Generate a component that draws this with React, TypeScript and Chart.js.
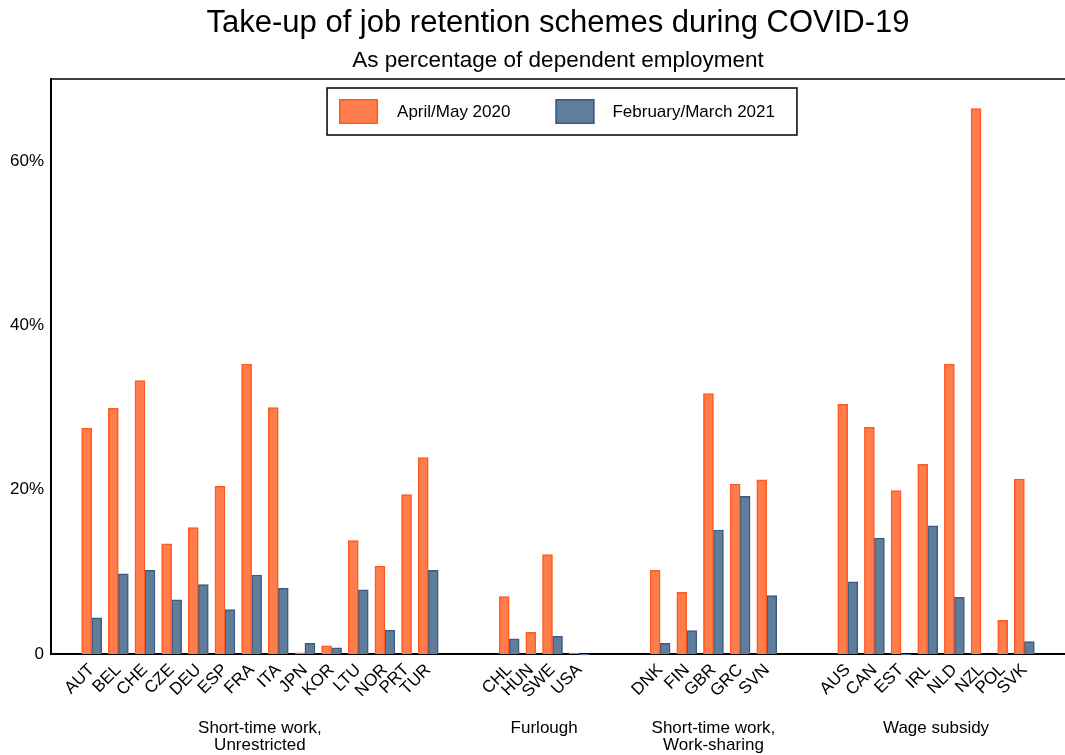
import React, { useEffect, useRef } from 'react';
import { Chart, registerables } from 'chart.js';

Chart.register(...registerables);

const TITLE = 'Take-up of job retention schemes during COVID-19';
const SUBTITLE = 'As percentage of dependent employment';
const SERIES_NAMES = ['April/May 2020', 'February/March 2021'];

const SCHEME_LABELS = [
  ['Short-time work,', 'Unrestricted'],
  ['Furlough'],
  ['Short-time work,', 'Work-sharing'],
  ['Wage subsidy'],
];

const COUNTRIES_STW_UNRESTRICTED = ['AUT', 'BEL', 'CHE', 'CZE', 'DEU', 'ESP', 'FRA', 'ITA', 'JPN', 'KOR', 'LTU', 'NOR', 'PRT', 'TUR'];
const COUNTRIES_FURLOUGH = ['CHL', 'HUN', 'SWE', 'USA'];
const COUNTRIES_STW_SHARING = ['DNK', 'FIN', 'GBR', 'GRC', 'SVN'];
const COUNTRIES_WAGE_SUBSIDY = ['AUS', 'CAN', 'EST', 'IRL', 'NLD', 'NZL', 'POL', 'SVK'];

const APR_MAY_2020_STW_UNRESTRICTED = [27.5, 29.9, 33.3, 13.4, 15.4, 20.4, 35.3, 30.0, 0.15, 1.0, 13.8, 10.7, 19.4, 23.9];
const FEB_MAR_2021_STW_UNRESTRICTED = [4.4, 9.75, 10.2, 6.6, 8.45, 5.4, 9.6, 8.0, 1.3, 0.75, 7.8, 2.9, null, 10.2];
const APR_MAY_2020_FURLOUGH = [7.0, 2.65, 12.1, 0.12];
const FEB_MAR_2021_FURLOUGH = [1.85, null, 2.15, -0.1];
const APR_MAY_2020_STW_SHARING = [10.2, 7.5, 31.7, 20.7, 21.2];
const FEB_MAR_2021_STW_SHARING = [1.3, 2.85, 15.1, 19.2, 7.1];
const APR_MAY_2020_WAGE_SUBSIDY = [30.4, 27.6, 19.9, 23.1, 35.3, 66.4, 4.1, 21.3];
const FEB_MAR_2021_WAGE_SUBSIDY = [8.8, 14.1, -0.1, 15.6, 6.9, 0, null, 1.5];

const COUNTRY_GROUPS = [COUNTRIES_STW_UNRESTRICTED, COUNTRIES_FURLOUGH, COUNTRIES_STW_SHARING, COUNTRIES_WAGE_SUBSIDY];
const SERIES_A = [APR_MAY_2020_STW_UNRESTRICTED, APR_MAY_2020_FURLOUGH, APR_MAY_2020_STW_SHARING, APR_MAY_2020_WAGE_SUBSIDY];
const SERIES_B = [FEB_MAR_2021_STW_UNRESTRICTED, FEB_MAR_2021_FURLOUGH, FEB_MAR_2021_STW_SHARING, FEB_MAR_2021_WAGE_SUBSIDY];

const Y_TICKS = [0, 20, 40, 60];
const Y_MAX = 70;

// x layout units: a missing bar takes no room (as in the source graph)
const BAR = 1.5;
const GAP = 1;
const GROUP_GAP = 9.15;
const OUTER = 4.6;

const FONT = "'Liberation Sans', Arial, Helvetica, sans-serif";
const ORANGE_FILL = '#FF7D4D';
const ORANGE_EDGE = '#FF5A1F';
const BLUE_FILL = '#5F7E9C';
const BLUE_EDGE = '#3C5B7E';

function buildLayout() {
  const a: { x: number; y: number }[] = [];
  const b: { x: number; y: number }[] = [];
  const tickPos: number[] = [];
  const tickLabels: string[] = [];
  const groupCenters: number[] = [];
  let x = OUTER;
  COUNTRY_GROUPS.forEach((list, g) => {
    const gStart = x;
    list.forEach((country, i) => {
      const start = x;
      a.push({ x: x + BAR / 2, y: SERIES_A[g][i] as number });
      x += BAR;
      const vb = SERIES_B[g][i];
      if (vb !== null) {
        b.push({ x: x + BAR / 2, y: vb });
        x += BAR;
      }
      tickPos.push((start + x) / 2);
      tickLabels.push(country);
      if (i < list.length - 1) x += GAP;
    });
    groupCenters.push((gStart + x) / 2);
    if (g < COUNTRY_GROUPS.length - 1) x += GROUP_GAP;
  });
  return { a, b, tickPos, tickLabels, groupCenters, max: x + OUTER };
}

export default function App() {
  const ref = useRef<HTMLCanvasElement | null>(null);

  useEffect(() => {
    if (!ref.current) return;
    const L = buildLayout();

    const framePlugin = {
      id: 'frameAndExtras',
      afterDraw(chart: any) {
        const { ctx, chartArea } = chart;
        ctx.save();
        // top frame line
        ctx.strokeStyle = '#000';
        ctx.lineWidth = 1.5;
        ctx.beginPath();
        ctx.moveTo(chartArea.left, chartArea.top);
        ctx.lineTo(chart.width, chartArea.top);
        ctx.stroke();

        // legend box
        ctx.font = `17px ${FONT}`;
        const w1 = ctx.measureText(SERIES_NAMES[0]).width;
        const w2 = ctx.measureText(SERIES_NAMES[1]).width;
        const sw = 39, sh = 25;
        const boxW = 12 + sw + 19 + w1 + 45 + sw + 18 + w2 + 22;
        const boxH = 47;
        const cx = (chartArea.left + chartArea.right) / 2 + 4;
        const bx = cx - boxW / 2;
        const by = chartArea.top + 9;
        ctx.fillStyle = '#fff';
        ctx.fillRect(bx, by, boxW, boxH);
        ctx.lineWidth = 1.5;
        ctx.strokeStyle = '#000';
        ctx.strokeRect(bx, by, boxW, boxH);
        const my = by + boxH / 2;
        const ds = chart.data.datasets;
        let x = bx + 12;
        [0, 1].forEach((k) => {
          ctx.fillStyle = ds[k].backgroundColor;
          ctx.fillRect(x, my - sh / 2, sw, sh);
          ctx.strokeStyle = ds[k].borderColor;
          ctx.lineWidth = 1.5;
          ctx.strokeRect(x + 0.75, my - sh / 2 + 0.75, sw - 1.5, sh - 1.5);
          x += sw + (k === 0 ? 19 : 18);
          ctx.fillStyle = '#000';
          ctx.textAlign = 'left';
          ctx.textBaseline = 'middle';
          ctx.fillText(ds[k].label, x, my + 1);
          x += (k === 0 ? w1 : w2) + 45;
        });

        // scheme (group) labels under the country labels
        const xs = chart.scales.x;
        ctx.font = `17px ${FONT}`;
        ctx.fillStyle = '#000';
        ctx.textAlign = 'center';
        ctx.textBaseline = 'middle';
        SCHEME_LABELS.forEach((lines, g) => {
          const px = xs.getPixelForValue(L.groupCenters[g]);
          lines.forEach((line, j) => {
            ctx.fillText(line, px, chartArea.bottom + 74 + j * 17);
          });
        });
        ctx.restore();
      },
    };

    const chart = new Chart(ref.current, {
      type: 'bar',
      data: {
        datasets: [
          {
            label: SERIES_NAMES[0],
            data: L.a,
            backgroundColor: ORANGE_FILL,
            borderColor: ORANGE_EDGE,
            borderWidth: 1.5,
            barThickness: 10,
            grouped: false,
            clip: false as any,
          },
          {
            label: SERIES_NAMES[1],
            data: L.b,
            backgroundColor: BLUE_FILL,
            borderColor: BLUE_EDGE,
            borderWidth: 1.5,
            barThickness: 10,
            grouped: false,
            clip: false as any,
          },
        ],
      },
      options: {
        responsive: false,
        animation: false,
        layout: { padding: 0 },
        plugins: {
          legend: { display: false },
          tooltip: { enabled: false },
          title: {
            display: true,
            text: TITLE,
            fullSize: false,
            color: '#000',
            font: { family: FONT, size: 31, weight: 'normal', lineHeight: 1.2 },
            padding: { top: 5, bottom: 2 },
          },
          subtitle: {
            display: true,
            text: SUBTITLE,
            fullSize: false,
            color: '#000',
            font: { family: FONT, size: 22.5, weight: 'normal', lineHeight: 1.2 },
            padding: { top: 3.5, bottom: 4.3 },
          },
        },
        scales: {
          x: {
            type: 'linear',
            min: 0,
            max: L.max,
            offset: false,
            grid: { display: false, drawTicks: false },
            border: { display: true, color: '#000', width: 2 },
            afterBuildTicks: (scale: any) => {
              scale.ticks = L.tickPos.map((v) => ({ value: v }));
            },
            afterFit: (scale: any) => {
              scale.height = 101;
            },
            ticks: {
              autoSkip: false,
              minRotation: 45,
              maxRotation: 45,
              padding: 6,
              color: '#000',
              font: { family: FONT, size: 17 },
              callback: (_v: any, i: number) => L.tickLabels[i],
            },
          },
          y: {
            type: 'linear',
            min: 0,
            max: Y_MAX,
            grid: { display: false, drawTicks: false },
            border: { display: true, color: '#000', width: 2 },
            afterBuildTicks: (scale: any) => {
              scale.ticks = Y_TICKS.map((v) => ({ value: v }));
            },
            afterFit: (scale: any) => {
              scale.width = 51;
            },
            ticks: {
              padding: 7,
              color: '#000',
              font: { family: FONT, size: 17 },
              callback: (v: any) => (v === 0 ? '0' : `${v}%`),
            },
          },
        },
      },
      plugins: [framePlugin],
    });

    return () => chart.destroy();
  }, []);

  return (
    <div style={{ position: 'fixed', left: 0, top: 0, width: 1065, height: 755, background: '#fff' }}>
      <canvas ref={ref} width={1065} height={755} />
    </div>
  );
}
